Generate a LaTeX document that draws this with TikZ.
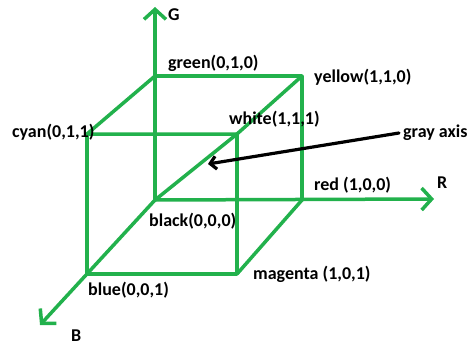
\documentclass[tikz,border=0pt]{standalone}
\usepackage{fontspec}
\setmainfont{Carlito}
\usetikzlibrary{arrows.meta, positioning}
\definecolor{paintgreen}{RGB}{34,177,76}

\begin{document}
\begin{tikzpicture}[x=1pt, y=-1pt,
    edge/.style={draw=paintgreen, line width=3.5pt, line cap=round, line join=round},
    axis/.style={edge, -{Straight Barb[length=10pt, width=22pt]}},
    pointer/.style={draw=black, line width=3.2pt, line cap=round,
                    -{Straight Barb[length=6pt, width=13pt]}},
    lbl/.style={font=\fontsize{18}{20}\selectfont\bfseries, inner sep=0pt, anchor=west}
  ]
  \useasboundingbox (0,0) rectangle (470,345);
  % vertices of the cube
  \coordinate (black)   at (155,200);
  \coordinate (green)   at (155,76);
  \coordinate (yellow)  at (302,76);
  \coordinate (red)     at (302,200);
  \coordinate (cyan)    at (87,134);
  \coordinate (white)   at (237,134);
  \coordinate (blue)    at (87,274);
  \coordinate (magenta) at (237,274);
  % axis ends
  \coordinate (gtip) at (155,7);
  \coordinate (rtip) at (434,199);
  \coordinate (btip) at (40,325);
  \coordinate (graytip) at (208,164);

  % edges
  \draw[edge] (green) -- (yellow) -- (red);
  \draw[edge] (green) -- (cyan) -- (white) -- (yellow);
  \draw[edge] (cyan) -- (blue) -- (magenta) -- (white);
  \draw[edge] (magenta) -- (red);
  \draw[edge] (black) -- (white);
  % axes
  \draw[axis] (black) -- (gtip);
  \draw[axis] (black) -- (rtip);
  \draw[axis] (black) -- (btip);

  % labels
  \node[lbl] (G)   at (168,15)  {G};
  \node[lbl] (R)   at (437,183) {R};
  \node[lbl] (B)   at (71,336)  {B};
  \node[lbl] (lgreen)   at (168,63)  {green(0,1,0)};
  \node[lbl] (lyellow)  at (314,77)  {yellow(1,1,0)};
  \node[lbl] (lcyan)    at (12,132)  {cyan(0,1,1)};
  \node[lbl] (lwhite)   at (229,119) {white(1,1,1)};
  \node[lbl] (lred)     at (314,185) {red (1,0,0)};
  \node[lbl] (lblack)   at (149,221) {black(0,0,0)};
  \node[lbl] (lmagenta) at (253,274) {magenta (1,0,1)};
  \node[lbl] (lblue)    at (88,290)  {blue(0,0,1)};
  \node[lbl] (grayaxis) at (403,133) {gray axis};

  \draw[pointer] ([xshift=-4pt]grayaxis.west) -- (graytip);
\end{tikzpicture}
\end{document}
